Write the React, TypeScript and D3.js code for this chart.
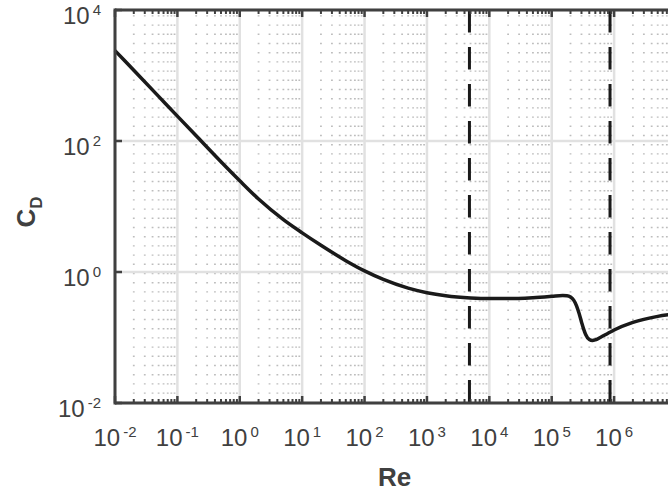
import React from "react";
import * as d3 from "d3";

// Data (drag coefficient vs Reynolds number)
const reValues = [
  0.01, 0.02, 0.05, 0.1, 0.2, 0.5, 1, 2, 5, 10, 20, 50, 100, 200, 500, 1000,
  2000, 5000, 1e4, 2e4, 5e4, 1e5, 1.5e5, 1.75e5, 2e5, 2.25e5, 2.5e5, 2.75e5,
  3e5, 3.25e5, 3.5e5, 4e5, 4.5e5, 5e5, 6e5, 8e5, 1e6, 2e6, 5e6, 9e6,
];
const cdValues = [
  2400, 1200, 480, 240, 120.1, 48.2, 24.7, 13.0, 6.3, 3.96, 2.56, 1.49, 1.04,
  0.77, 0.567, 0.483, 0.434, 0.402, 0.393, 0.393, 0.406, 0.425, 0.438, 0.435,
  0.415, 0.372, 0.305, 0.232, 0.173, 0.134, 0.111, 0.093, 0.09, 0.092, 0.1,
  0.116, 0.13, 0.17, 0.21, 0.228,
];
const dashedRe = [4800, 8.6e5];
const xTickExps = [-2, -1, 0, 1, 2, 3, 4, 5, 6];
const yTickExps = [-2, 0, 2, 4];
const xLabel = "Re";
const yLabelMain = "C";
const yLabelSub = "D";

const W = 668;
const H = 497;
const left = 115;
const right = 674;
const top = 10;
const bottom = 403;
const xMaxExp = 6.96;

export default function App() {
  const x = d3.scaleLog().domain([1e-2, Math.pow(10, xMaxExp)]).range([left, right]);
  const y = d3.scaleLog().domain([1e-2, 1e4]).range([bottom, top]);

  const minorX: number[] = [];
  xTickExps.forEach((e) => {
    for (let m = 2; m <= 9; m++) {
      const v = m * Math.pow(10, e);
      if (v < Math.pow(10, xMaxExp)) minorX.push(v);
    }
  });

  const pts: [number, number][] = reValues.map((r, i) => [x(r), y(cdValues[i])]);
  const line = d3.line().curve(d3.curveMonotoneX)(pts) || "";

  const axisColor = "#404040";
  const font = "'Liberation Sans', Arial, Helvetica, sans-serif";

  return (
    <svg
      width={W}
      height={H}
      style={{ position: "absolute", left: 0, top: 0, background: "#fff" }}
      fontFamily={font}
    >
      <rect x={0} y={0} width={W} height={H} fill="#fff" />
      {/* minor grid */}
      {minorX.map((v, i) => (
        <line
          key={"mg" + i}
          x1={x(v)}
          x2={x(v)}
          y1={bottom}
          y2={top}
          stroke="#bdbdbd"
          strokeWidth={1.8}
          strokeDasharray="1.4 7.8"
        />
      ))}
      {/* major grid */}
      {xTickExps.map((e) => (
        <line
          key={"gx" + e}
          x1={x(Math.pow(10, e))}
          x2={x(Math.pow(10, e))}
          y1={top}
          y2={bottom}
          stroke="#e1e1e1"
          strokeWidth={2.5}
        />
      ))}
      {yTickExps.map((e) => (
        <line
          key={"gy" + e}
          x1={left}
          x2={right}
          y1={y(Math.pow(10, e))}
          y2={y(Math.pow(10, e))}
          stroke="#e1e1e1"
          strokeWidth={2.5}
        />
      ))}
      {/* curve */}
      <path d={line} fill="none" stroke="#1a1a1a" strokeWidth={3.5} strokeLinejoin="round" />
      {/* dashed lines */}
      {dashedRe.map((r, i) => (
        <line
          key={"d" + i}
          x1={x(r)}
          x2={x(r)}
          y1={top}
          y2={bottom}
          stroke="#1a1a1a"
          strokeWidth={3}
          strokeDasharray="22.5 14.5"
        />
      ))}
      {/* axes box */}
      <line x1={left} x2={right} y1={top} y2={top} stroke={axisColor} strokeWidth={3} />
      <line x1={left} x2={right} y1={bottom} y2={bottom} stroke={axisColor} strokeWidth={3} />
      <line x1={left} x2={left} y1={top - 1.5} y2={bottom + 1.5} stroke={axisColor} strokeWidth={3} />
      <line x1={right} x2={right} y1={top - 1.5} y2={bottom + 1.5} stroke={axisColor} strokeWidth={3} />
      {/* x ticks */}
      {xTickExps.map((e) => {
        const px = x(Math.pow(10, e));
        return (
          <g key={"xt" + e}>
            <line x1={px} x2={px} y1={bottom} y2={bottom - 7} stroke={axisColor} strokeWidth={2.5} />
            <line x1={px} x2={px} y1={top} y2={top + 7} stroke={axisColor} strokeWidth={2.5} />
            <text x={px} y={446} textAnchor="middle" fontSize={24} fill={axisColor}>
              <tspan>10</tspan>
              <tspan dx={3} dy={-9} fontSize={15}>{String(e)}</tspan>
            </text>
          </g>
        );
      })}
      {minorX.map((v, i) => (
        <g key={"mt" + i}>
          <line x1={x(v)} x2={x(v)} y1={bottom} y2={bottom - 4} stroke={axisColor} strokeWidth={2} />
          <line x1={x(v)} x2={x(v)} y1={top} y2={top + 4} stroke={axisColor} strokeWidth={2} />
        </g>
      ))}
      {/* y ticks */}
      {yTickExps.map((e) => {
        const py = y(Math.pow(10, e));
        return (
          <g key={"yt" + e}>
            <line x1={left} x2={left + 7} y1={py} y2={py} stroke={axisColor} strokeWidth={2.5} />
            <text x={101} y={py + 14} textAnchor="end" fontSize={24} fill={axisColor}>
              <tspan>10</tspan>
              <tspan dx={3} dy={-9.5} fontSize={15}>{String(e)}</tspan>
            </text>
          </g>
        );
      })}
      {/* axis labels */}
      <text
        x={(left + right) / 2}
        y={486}
        textAnchor="middle"
        fontSize={26}
        fontWeight="bold"
        fill={axisColor}
      >
        {xLabel}
      </text>
      <text
        transform={`translate(35, 212) rotate(-90)`}
        textAnchor="middle"
        fontSize={26}
        fontWeight="bold"
        fill={axisColor}
      >
        <tspan>{yLabelMain}</tspan>
        <tspan dy={7} fontSize={17}>{yLabelSub}</tspan>
      </text>
    </svg>
  );
}
